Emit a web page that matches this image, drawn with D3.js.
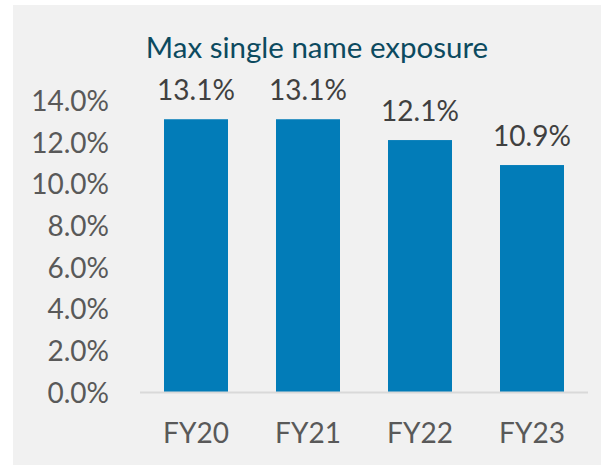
<!DOCTYPE html>
<html>
<head>
<meta charset="utf-8">
<script src="https://cdn.jsdelivr.net/npm/d3@7"></script>
<style>
  html, body { margin: 0; padding: 0; background: #ffffff; }
  svg { display: block; }
  text { font-family: Lato, "Open Sans", sans-serif; }
</style>
</head>
<body>
<svg id="chart" width="601" height="465"></svg>
<script>
const title = "Max single name exposure";
const categories = ["FY20", "FY21", "FY22", "FY23"];
const values = [0.131, 0.131, 0.121, 0.109];
const yTicks = [0, 0.02, 0.04, 0.06, 0.08, 0.10, 0.12, 0.14];

const svg = d3.select("#chart");

svg.append("rect")
  .attr("x", 13).attr("y", 5)
  .attr("width", 588).attr("height", 460)
  .attr("fill", "#f1f1f1");

const x = d3.scaleBand()
  .domain(categories)
  .range([140, 588])
  .paddingInner(0.4286)
  .paddingOuter(0.2143);

const y = d3.scaleLinear()
  .domain([0, 0.14])
  .range([392, 100.5]);

// title
svg.append("text")
  .attr("x", 317).attr("y", 58)
  .attr("text-anchor", "middle")
  .attr("font-size", 29.5)
  .attr("fill", "#0c4a5f")
  .text(title);

// y axis labels
const fmt = d3.format(".1%");
const yAxis = d3.axisLeft(y).tickValues(yTicks).tickFormat(fmt).tickSize(0).tickPadding(0);
const yg = svg.append("g").attr("transform", "translate(109,0)").call(yAxis);
yg.select(".domain").remove();
yg.selectAll("text")
  .attr("font-family", "Lato, 'Open Sans', sans-serif")
  .attr("font-size", 28)
  .attr("fill", "#595959")
  .attr("dy", "0.36em");

// bars
svg.append("g").selectAll("rect")
  .data(values)
  .join("rect")
  .attr("x", (d, i) => x(categories[i]))
  .attr("y", d => y(d))
  .attr("width", x.bandwidth())
  .attr("height", d => y(0) - y(d))
  .attr("fill", "#027cb8");

// baseline
svg.append("line")
  .attr("x1", 140).attr("x2", 588)
  .attr("y1", y(0) + 0.5).attr("y2", y(0) + 0.5)
  .attr("stroke", "#d9d9d9")
  .attr("stroke-width", 2);

// x axis labels
const xAxis = d3.axisBottom(x).tickSize(0).tickPadding(0);
const xg = svg.append("g").attr("transform", "translate(0,443)").call(xAxis);
xg.select(".domain").remove();
xg.selectAll("text")
  .attr("font-family", "Lato, 'Open Sans', sans-serif")
  .attr("font-size", 28)
  .attr("fill", "#595959")
  .attr("dy", 0)
  .attr("y", 0);

// data labels
svg.append("g").selectAll("text")
  .data(values)
  .join("text")
  .attr("x", (d, i) => x(categories[i]) + x.bandwidth() / 2)
  .attr("y", d => y(d) - 19)
  .attr("text-anchor", "middle")
  .attr("font-size", 28)
  .attr("fill", "#404040")
  .text(d => fmt(d));
</script>
</body>
</html>
